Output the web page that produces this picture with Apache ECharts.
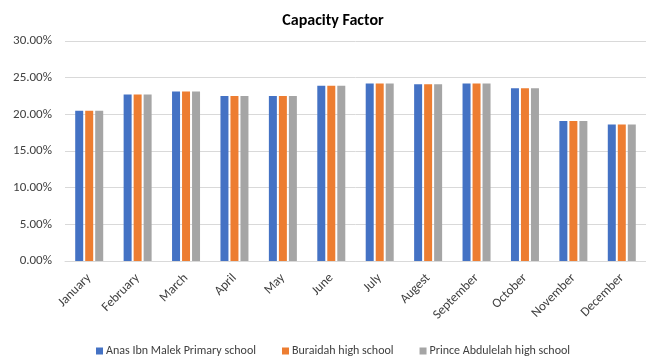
<!DOCTYPE html>
<html>
<head>
<meta charset="utf-8">
<script src="https://cdn.jsdelivr.net/npm/echarts@6/dist/echarts.min.js"></script>
<style>
  html, body { margin: 0; padding: 0; background: #fff; }
  #chart { width: 646px; height: 361px; }
</style>
</head>
<body>
<div id="chart"></div>
<script>
// 月ごとの設備利用率（3校）
const months = ['January', 'February', 'March', 'April', 'May', 'June', 'July',
  'Augest', 'September', 'October', 'November', 'December'];
const anasIbnMalek = [20.5, 22.7, 23.1, 22.5, 22.5, 23.9, 24.2, 24.1, 24.2, 23.55, 19.1, 18.6];
const buraidah = [20.5, 22.7, 23.1, 22.5, 22.5, 23.9, 24.2, 24.1, 24.2, 23.55, 19.1, 18.6];
const princeAbdulelah = [20.5, 22.7, 23.1, 22.5, 22.5, 23.9, 24.2, 24.1, 24.2, 23.55, 19.1, 18.6];
const seriesNames = ['Anas Ibn Malek Primary school', 'Buraidah high school', 'Prince Abdulelah high school'];

const font = 'Carlito, "Liberation Sans Narrow", "Open Sans", sans-serif';
const palette = ['#4472C4', '#ED7D31', '#A5A5A5'];

const series = [anasIbnMalek, buraidah, princeAbdulelah].map((data, i) => ({
  name: seriesNames[i],
  type: 'bar',
  data,
  barWidth: 8,
  barGap: '25%',
  itemStyle: { color: palette[i] },
}));

const chart = echarts.init(document.getElementById('chart'), null, { renderer: 'canvas' });
chart.setOption({
  animation: false,
  color: palette,
  title: {
    text: 'Capacity Factor',
    left: 328,
    textAlign: 'center',
    top: 8,
    textStyle: { fontFamily: font, fontSize: 16, fontWeight: 'bold', color: '#000' },
  },
  legend: {
    bottom: -1,
    left: 91,
    itemWidth: 7,
    itemHeight: 7,
    itemGap: 26,
    icon: 'rect',
    textStyle: { fontFamily: font, fontSize: 12, color: '#404040', padding: [0, 0, 0, -2] },
  },
  grid: { left: 65, right: -1, top: 41, bottom: 100 },
  xAxis: {
    type: 'category',
    data: months,
    axisTick: { show: false },
    axisLine: { lineStyle: { color: '#D9D9D9' } },
    axisLabel: {
      rotate: 45,
      interval: 0,
      margin: 15,
      fontFamily: font,
      fontSize: 13,
      color: '#404040',
    },
  },
  yAxis: {
    type: 'value',
    min: 0,
    max: 30,
    interval: 5,
    axisLine: { show: false },
    axisTick: { show: false },
    splitLine: { lineStyle: { color: '#D9D9D9' } },
    axisLabel: {
      formatter: (v) => v.toFixed(2) + '%',
      fontFamily: font,
      fontSize: 13,
      color: '#404040',
      margin: 13,
    },
  },
  series,
});

window.addEventListener('resize', () => chart.resize());
</script>
</body>
</html>
